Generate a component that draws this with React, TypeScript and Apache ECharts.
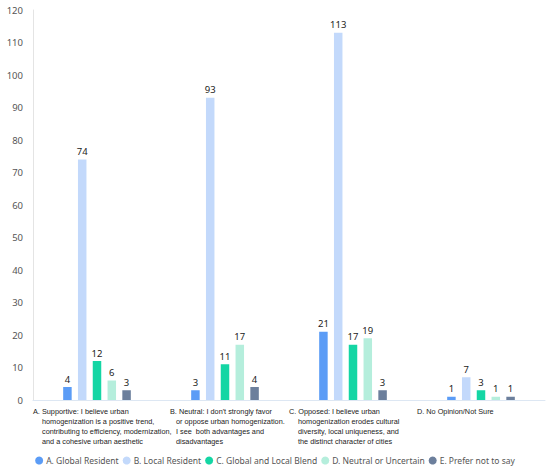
import React, { useEffect, useRef } from "react";
import * as echarts from "echarts";

const categories = [
  "A. Supportive: I believe urban\nhomogenization is a positive trend,\ncontributing to efficiency, modernization,\nand a cohesive urban aesthetic",
  "B. Neutral: I don't strongly favor\nor oppose urban homogenization.\nI see  both advantages and\ndisadvantages",
  "C. Opposed: I believe urban\nhomogenization erodes cultural\ndiversity, local uniqueness, and\nthe distinct character of cities",
  "D. No Opinion/Not Sure",
];

const seriesNames = [
  "A. Global Resident",
  "B. Local Resident",
  "C. Global and Local Blend",
  "D. Neutral or Uncertain",
  "E. Prefer not to say",
];

const globalResident = [4, 3, 21, 1];
const localResident = [74, 93, 113, 7];
const blend = [12, 11, 17, 3];
const neutral = [6, 17, 19, 1];
const preferNot = [3, 4, 3, 1];

const seriesValues = [globalResident, localResident, blend, neutral, preferNot];
const colors = ["#5b9cf6", "#c3d9fb", "#14d6a4", "#b5eedc", "#6c7f9c"];

const yTicks = { min: 0, max: 120, interval: 10 };

export default function App() {
  const ref = useRef<HTMLDivElement>(null);

  useEffect(() => {
    document.body.style.margin = "0";
    if (!ref.current) return;
    const chart = echarts.init(ref.current, undefined, { renderer: "svg" });
    const labelFont = "'Liberation Sans', Arial, sans-serif";
    const lineBase = { fontSize: 7.3, lineHeight: 10, color: "#222", fontFamily: labelFont, align: "left" as const };
    chart.setOption({
      animation: false,
      grid: { left: 33, right: 5, top: 10, bottom: 76 },
      legend: {
        data: seriesNames,
        bottom: 6,
        left: "center",
        icon: "circle",
        itemWidth: 8,
        itemHeight: 8,
        itemGap: 4,
        textStyle: { fontSize: 8.5, color: "#555", fontFamily: "'Noto Sans', sans-serif", padding: [0, 0, 0, -2] },
      },
      xAxis: {
        type: "category",
        data: categories,
        axisLine: { show: true, lineStyle: { color: "#dde7f3", width: 1 } },
        axisTick: { show: false },
        axisLabel: {
          interval: 0,
          margin: 6,
          formatter: (val: string, idx: number) => {
            const lines = val.split("\n");
            const h = idx === 1 ? "bh" : "h";
            const r = idx === 1 ? "br" : "r";
            return lines.map((l, i) => `{${i === 0 ? h : r}|${l}}`).join("\n");
          },
          rich: {
            h: { ...lineBase, width: 128 },
            r: { ...lineBase, width: 119, padding: [0, 0, 0, 9] },
            bh: { ...lineBase, width: 110 },
            br: { ...lineBase, width: 104, padding: [0, 0, 0, 6] },
          },
        },
      },
      yAxis: {
        type: "value",
        min: yTicks.min,
        max: yTicks.max,
        interval: yTicks.interval,
        splitLine: { show: false },
        axisLine: { show: true, lineStyle: { color: "#e4e4e4" } },
        axisTick: { show: false },
        axisLabel: { fontSize: 9.5, color: "#555", margin: 10, fontFamily: "'Noto Sans', sans-serif" },
      },
      series: seriesNames.map((name, i) => ({
        name,
        type: "bar",
        data: seriesValues[i],
        barWidth: 8.5,
        barGap: "74%",
        itemStyle: { color: colors[i] },
        label: {
          show: true,
          position: "top",
          distance: 3,
          fontSize: 9.5,
          color: "#222",
          fontFamily: "'Noto Sans', sans-serif",
        },
      })),
    });
    return () => chart.dispose();
  }, []);

  return <div ref={ref} style={{ width: 550, height: 476 }} />;
}
